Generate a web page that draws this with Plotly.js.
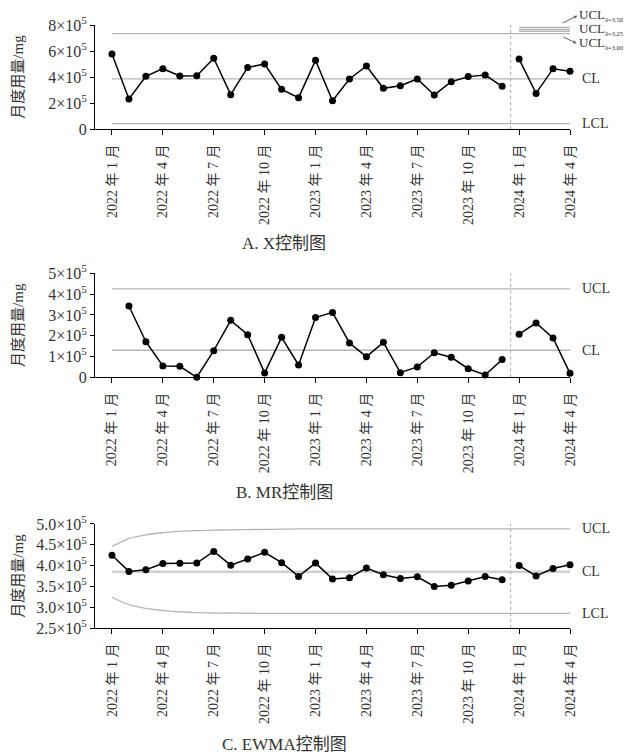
<!DOCTYPE html>
<html><head><meta charset="utf-8">
<script src="https://cdn.plot.ly/plotly-3.0.1.min.js"></script>
<style>html,body{margin:0;padding:0;background:#fff}#chart{width:629px;height:754px}</style>
</head><body><div id="chart"></div>
<script>
// month categories
const months = ['2022-01','2022-02','2022-03','2022-04','2022-05','2022-06','2022-07','2022-08','2022-09','2022-10','2022-11','2022-12',
  '2023-01','2023-02','2023-03','2023-04','2023-05','2023-06','2023-07','2023-08','2023-09','2023-10','2023-11','2023-12',
  '2024-01','2024-02','2024-03','2024-04'];
const tickMonths = ['2022-01','2022-04','2022-07','2022-10','2023-01','2023-04','2023-07','2023-10','2024-01','2024-04'];
const tickLabels = ['2022 年 1 月','2022 年 4 月','2022 年 7 月','2022 年 10 月','2023 年 1 月','2023 年 4 月','2023 年 7 月','2023 年 10 月','2024 年 1 月','2024 年 4 月'];

// A. X chart (monthly usage, mg)
const xBase = [577000,231000,405000,464000,408000,410000,544000,264000,474000,500000,305000,241000,
  528000,218000,385000,485000,313000,333000,385000,262000,364000,403000,415000,328000];
const xNew = [538000,274000,464000,444000];
const xCL = 385000, xUCL = 733000, xLCL = 41000;
const xUCLdelta = [782000,767000,752000]; // δ=3.50, 3.25, 3.00
const deltaLabels = ['3.50','3.25','3.00'];

// B. MR chart
const mrBase = [343000,171000,54000,53000,0,128000,274000,205000,21000,192000,59000,
  287000,312000,165000,99000,168000,22000,50000,118000,96000,41000,11000,85000];
const mrNew = [207000,261000,189000,19000];
const mrCL = 130000, mrUCL = 425000;

// C. EWMA chart
const ewBase = [425000,386000,390000,405000,405500,406000,434000,401000,416000,432000,407000,374000,
  406000,368000,371000,394000,378000,369000,373000,350000,353000,363000,374000,366000];
const ewNew = [400000,375000,393000,402000];
const ewCL = 385000;
const ewUCL = [446000,465000,474000,479000,482000,484000,485000,486000,486500,487000,487500,488000,488000,488000,
  488000,488000,488000,488000,488000,488000,488000,488000,488000,488000,488000,488000,488000,488000];
const ewLCL = [324000,306000,297000,292000,289000,287000,286000,286000,285500,285000,285000,285000,285000,285000,
  285000,285000,285000,285000,285000,285000,285000,285000,285000,285000,285000,285000,285000,285000];

// tick labels
const yTopTicks = [0,200000,400000,600000,800000];
const yTopLabels = ['0','2×10<sup>5</sup>','4×10<sup>5</sup>','6×10<sup>5</sup>','8×10<sup>5</sup>'];
const yMidTicks = [0,100000,200000,300000,400000,500000];
const yMidLabels = ['0','1×10<sup>5</sup>','2×10<sup>5</sup>','3×10<sup>5</sup>','4×10<sup>5</sup>','5×10<sup>5</sup>'];
const yBotTicks = [250000,300000,350000,400000,450000,500000];
const yBotLabels = ['2.5×10<sup>5</sup>','3.0×10<sup>5</sup>','3.5×10<sup>5</sup>','4.0×10<sup>5</sup>','4.5×10<sup>5</sup>','5.0×10<sup>5</sup>'];

const FONT = '"Liberation Serif", "Noto Sans CJK SC", serif';
const TXT = '#333';
const LIM = '#b5b5b5';
const first = months[0], last = months[months.length-1];
const base = months.slice(0,24), newer = months.slice(24);

function dataTrace(x, y, ax){
  return {x:x, y:y, xaxis:'x'+ax, yaxis:'y'+ax, type:'scatter', mode:'lines+markers', cliponaxis:false,
    line:{color:'#000', width:1.5}, marker:{color:'#000', size:7}, hoverinfo:'skip', showlegend:false};
}
function limTrace(x, y, ax, w, c, shape){
  return {x:x, y:y, xaxis:'x'+ax, yaxis:'y'+ax, type:'scatter', mode:'lines', cliponaxis:false,
    line:{color:c||LIM, width:w||1.3, shape:shape||'linear'}, hoverinfo:'skip', showlegend:false};
}
const traces = [
  limTrace([first,last],[xUCL,xUCL],''),
  limTrace([first,last],[xCL,xCL],''),
  limTrace([first,last],[xLCL,xLCL],''),
  limTrace([newer[0],last],[xUCLdelta[0],xUCLdelta[0]],''),
  limTrace([newer[0],last],[xUCLdelta[1],xUCLdelta[1]],''),
  limTrace([newer[0],last],[xUCLdelta[2],xUCLdelta[2]],''),
  dataTrace(base, xBase, ''),
  dataTrace(newer, xNew, ''),
  limTrace([first,last],[mrUCL,mrUCL],'2'),
  limTrace([first,last],[mrCL,mrCL],'2'),
  dataTrace(months.slice(1,24), mrBase, '2'),
  dataTrace(newer, mrNew, '2'),
  limTrace(months, ewUCL, '3', 1.3, LIM, 'spline'),
  limTrace(months, ewLCL, '3', 1.3, LIM, 'spline'),
  limTrace([first,last],[ewCL,ewCL],'3', 2.5, '#cfcfcf'),
  dataTrace(base, ewBase, '3'),
  dataTrace(newer, ewNew, '3'),
];

function xax(anchor){
  return {type:'category', categoryorder:'array', categoryarray:months, range:[-1,27], anchor:anchor, domain:[0,1],
    tickmode:'array', tickvals:tickMonths, ticktext:tickLabels,
    tickangle:-90, ticks:'outside', ticklen:5, tickcolor:'#000', showline:true, linecolor:'#000', linewidth:1,
    showgrid:false, zeroline:false, tickfont:{family:FONT, size:14, color:TXT}, ticklabelstandoff:4, fixedrange:true};
}
function yax(anchor, dom, range, tv, tt, standoff){
  return {anchor:anchor, domain:dom, range:range, tickmode:'array', tickvals:tv, ticktext:tt, ticks:'outside', ticklen:4,
    tickcolor:'#000', showline:true, linecolor:'#000', linewidth:1, showgrid:false, zeroline:false,
    tickfont:{family:FONT, size:16, color:TXT}, fixedrange:true,
    title:{text:'月度用量/mg', font:{family:FONT, size:15, color:TXT}, standoff:standoff}};
}

function rl(text, yref, y){
  return {text:text, xref:'paper', yref:yref, x:1.021, y:y, xanchor:'left', yanchor:'middle', showarrow:false,
    font:{family:FONT, size:14, color:TXT}};
}
function dl(d, y){
  return {text:'UCL<sub><span style="font-size:6.5px">δ=' + d + '</span></sub>', xref:'paper', yref:'paper', x:1.017, y:y,
    xanchor:'left', yanchor:'middle', showarrow:false, borderpad:0, font:{family:FONT, size:13, color:TXT}};
}
const annotations = [
  dl(deltaLabels[0], 1.0158), dl(deltaLabels[1], 0.9934), dl(deltaLabels[2], 0.9702),
  rl('CL','y',xCL), rl('LCL','y',xLCL),
  rl('UCL','y2',mrUCL), rl('CL','y2',mrCL),
  rl('UCL','y3',488000), rl('CL','y3',ewCL), rl('LCL','y3',285000),
  {text:'', xref:'paper', yref:'paper', x:1.0154, y:1.0154, ax:-16, ay:8, showarrow:true, arrowhead:2, arrowsize:0.7, arrowwidth:1, arrowcolor:'#666'},
  {text:'', xref:'paper', yref:'paper', x:1.0141, y:0.9697, ax:-15, ay:-7, showarrow:true, arrowhead:2, arrowsize:0.7, arrowwidth:1, arrowcolor:'#666'},
  {text:'A. X控制图', xref:'paper', yref:'paper', x:0.398, y:0.638, xanchor:'center', yanchor:'middle', showarrow:false, font:{family:FONT, size:17, color:TXT}},
  {text:'B. MR控制图', xref:'paper', yref:'paper', x:0.398, y:0.224, xanchor:'center', yanchor:'middle', showarrow:false, font:{family:FONT, size:17, color:TXT}},
  {text:'C. EWMA控制图', xref:'paper', yref:'paper', x:0.398, y:-0.194, xanchor:'center', yanchor:'middle', showarrow:false, font:{family:FONT, size:17, color:TXT}},
];

function vline(ax){
  return {type:'line', xref:'x'+ax, yref:'y'+ax+' domain', x0:23.5, x1:23.5, y0:0, y1:1, line:{color:'#aaa', width:1, dash:'dot'}};
}

const layout = {
  width:629, height:754, paper_bgcolor:'#fff', plot_bgcolor:'#fff',
  margin:{l:95, r:59, t:25, b:126},
  showlegend:false, hovermode:false,
  font:{family:FONT, color:TXT},
  xaxis:xax('y'), xaxis2:xax('y2'), xaxis3:xax('y3'),
  yaxis:yax('x',[0.8275,1],[0,800000],yTopTicks,yTopLabels,20),
  yaxis2:yax('x2',[0.4158,0.5882],[0,500000],yMidTicks,yMidLabels,20),
  yaxis3:yax('x3',[0,0.1725],[250000,500000],yBotTicks,yBotLabels,8),
  shapes:[vline(''), vline('2'), vline('3')],
  annotations:annotations
};
Plotly.newPlot('chart', traces, layout, {staticPlot:true, displayModeBar:false});
</script></body></html>
